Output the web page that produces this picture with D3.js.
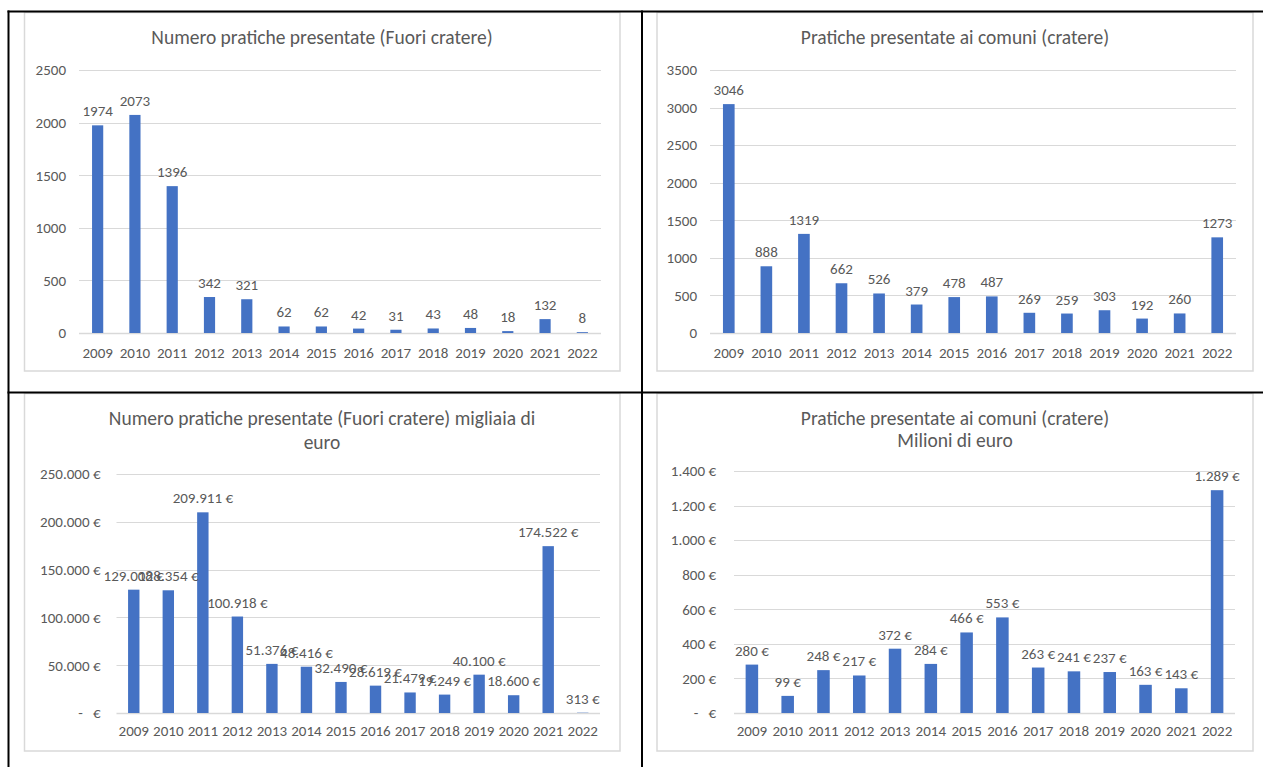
<!DOCTYPE html>
<html>
<head>
<meta charset="utf-8">
<script src="https://cdn.jsdelivr.net/npm/d3@7"></script>
<style>
  html, body { margin: 0; padding: 0; background: #fff; }
  svg { display: block; }
  text { font-family: Carlito, Lato, "Open Sans", sans-serif; fill: #595959; }
</style>
</head>
<body>
<svg id="chart" width="1263" height="767"></svg>
<script>
// ---------- DATA ----------
const years = ["2009","2010","2011","2012","2013","2014","2015","2016","2017","2018","2019","2020","2021","2022"];
const fuoriCount   = [1974, 2073, 1396, 342, 321, 62, 62, 42, 31, 43, 48, 18, 132, 8];
const crateriCount = [3046, 888, 1319, 662, 526, 379, 478, 487, 269, 259, 303, 192, 260, 1273];
const fuoriEuro    = [129008, 128354, 209911, 100918, 51376, 48416, 32490, 28619, 21479, 19249, 40100, 18600, 174522, 313];
const crateriEuro  = [280, 99, 248, 217, 372, 284, 466, 553, 263, 241, 237, 163, 143, 1289];
const ticksFuoriCount   = [0, 500, 1000, 1500, 2000, 2500];
const ticksCrateriCount = [0, 500, 1000, 1500, 2000, 2500, 3000, 3500];
const ticksFuoriEuro    = [0, 50000, 100000, 150000, 200000, 250000];
const ticksCrateriEuro  = [0, 200, 400, 600, 800, 1000, 1200, 1400];
const title1 = ["Numero pratiche presentate (Fuori cratere)"];
const title2 = ["Pratiche presentate ai comuni (cratere)"];
const title3 = ["Numero pratiche presentate (Fuori cratere) migliaia di", "euro"];
const title4 = ["Pratiche presentate ai comuni (cratere)", "Milioni di euro"];

// ---------- FORMATS ----------
const it = d3.formatLocale({decimal: ",", thousands: ".", grouping: [3], currency: ["", "\u00a0€"]});
const fmtInt = d3.format("d");
const fmtEuro = v => it.format(",d")(v) + "\u00a0€";
const fmtEuroTick = v => v === 0 ? "-\u00a0\u00a0\u00a0€" : fmtEuro(v);

const svg = d3.select("#chart");
const BAR = "#4472C4", GRID = "#D9D9D9";
const FS = "15px";

function drawPanel(cfg) {
  const g = svg.append("g");
  g.append("rect")
    .attr("x", cfg.frame[0]).attr("y", cfg.frame[1])
    .attr("width", cfg.frame[2] - cfg.frame[0]).attr("height", cfg.frame[3] - cfg.frame[1])
    .attr("fill", "#fff").attr("stroke", GRID).attr("stroke-width", 1.5);

  const x = d3.scaleBand().domain(years).range(cfg.xr)
    .paddingInner(cfg.pad).paddingOuter(cfg.pad / 2);
  const y = d3.scaleLinear().domain([0, d3.max(cfg.ticks)]).range(cfg.yr);

  g.append("g").selectAll("line").data(cfg.ticks).join("line")
    .attr("x1", cfg.xr[0]).attr("x2", cfg.xr[1])
    .attr("y1", d => Math.round(y(d)) + 0.5).attr("y2", d => Math.round(y(d)) + 0.5)
    .attr("stroke", GRID).attr("stroke-width", d => d === 0 ? 1.5 : 1);

  const ya = d3.axisLeft(y).tickValues(cfg.ticks).tickFormat(cfg.tickFmt).tickSize(0).tickPadding(cfg.yPad);
  const yg = g.append("g").attr("transform", `translate(${cfg.xr[0]},0)`).call(ya);
  yg.select(".domain").remove();
  yg.selectAll("text").style("font-size", FS).attr("fill", "#595959")
    .style("font-family", "Carlito, Lato, sans-serif");

  const xa = d3.axisBottom(x).tickSize(0).tickPadding(cfg.xPad);
  const xg = g.append("g").attr("transform", `translate(0,${cfg.yr[0]})`).call(xa);
  xg.select(".domain").remove();
  xg.selectAll("text").style("font-size", FS).attr("fill", "#595959")
    .style("font-family", "Carlito, Lato, sans-serif");

  g.append("g").selectAll("rect").data(cfg.values).join("rect")
    .attr("x", (d, i) => x(years[i]))
    .attr("width", x.bandwidth())
    .attr("y", d => y(d))
    .attr("height", d => y(0) - y(d))
    .attr("fill", BAR);

  g.append("g").selectAll("text").data(cfg.values).join("text")
    .attr("x", (d, i) => x(years[i]) + x.bandwidth() / 2)
    .attr("y", d => y(d) - 9)
    .attr("text-anchor", "middle")
    .style("font-size", FS)
    .text(cfg.valFmt);

  const t = g.append("text").attr("text-anchor", "middle")
    .attr("x", cfg.titleX).attr("y", cfg.titleY)
    .style("font-size", "19.5px");
  cfg.title.forEach((line, i) => {
    t.append("tspan").attr("x", cfg.titleX).attr("dy", i === 0 ? 0 : cfg.titleLH).text(line);
  });
}

drawPanel({
  frame: [24.5, 12.5, 620, 371], xr: [79, 601], yr: [333, 70], pad: 0.70,
  values: fuoriCount, ticks: ticksFuoriCount, tickFmt: fmtInt, valFmt: fmtInt,
  yPad: 13, xPad: 14, title: title1, titleX: 322, titleY: 44, titleLH: 24
});
drawPanel({
  frame: [657, 12.5, 1253, 371], xr: [710, 1236], yr: [333, 70], pad: 0.69,
  values: crateriCount, ticks: ticksCrateriCount, tickFmt: fmtInt, valFmt: fmtInt,
  yPad: 13, xPad: 14, title: title2, titleX: 955, titleY: 44, titleLH: 24
});
drawPanel({
  frame: [24.5, 393.5, 620, 751], xr: [116.5, 600], yr: [713, 474], pad: 0.67,
  values: fuoriEuro, ticks: ticksFuoriEuro, tickFmt: fmtEuroTick, valFmt: fmtEuro,
  yPad: 16, xPad: 12, title: title3, titleX: 322, titleY: 425, titleLH: 24
});
drawPanel({
  frame: [657, 393.5, 1253, 751], xr: [734, 1235], yr: [713, 471], pad: 0.65,
  values: crateriEuro, ticks: ticksCrateriEuro, tickFmt: fmtEuroTick, valFmt: fmtEuro,
  yPad: 18, xPad: 12, title: title4, titleX: 955, titleY: 425, titleLH: 22
});

const tl = svg.append("g").attr("stroke", "#000").attr("stroke-width", 2);
tl.append("line").attr("x1", 7.5).attr("x2", 1263).attr("y1", 11.5).attr("y2", 11.5);
tl.append("line").attr("x1", 8.5).attr("x2", 8.5).attr("y1", 10.5).attr("y2", 767);
tl.append("line").attr("x1", 642).attr("x2", 642).attr("y1", 10.5).attr("y2", 767);
tl.append("line").attr("x1", 7.5).attr("x2", 1263).attr("y1", 392.5).attr("y2", 392.5);
</script>
</body>
</html>
